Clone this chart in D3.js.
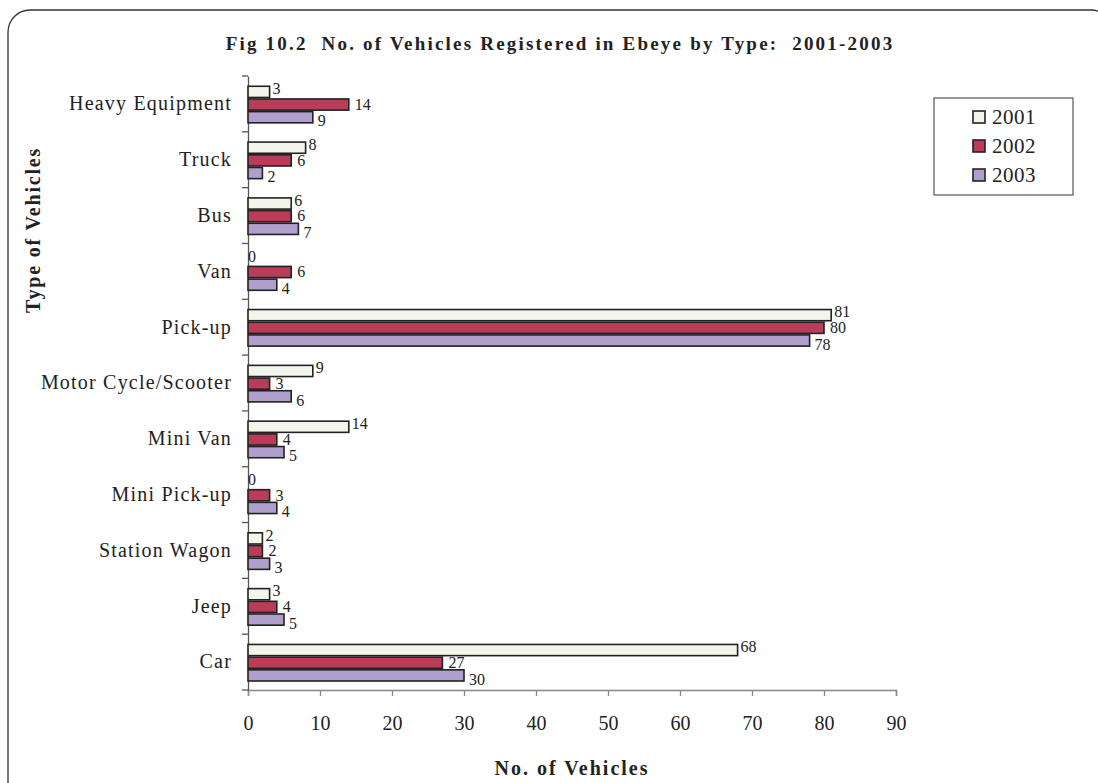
<!DOCTYPE html>
<html><head><meta charset="utf-8">
<script src="https://cdn.jsdelivr.net/npm/d3@7"></script>
<style>body{margin:0;background:#fff}svg{display:block}text{font-family:"Liberation Serif","Times New Roman",serif;white-space:pre}</style>
</head><body>
<svg id="c" width="1098" height="783"></svg>
<script>
const categories = ["Heavy Equipment","Truck","Bus","Van","Pick-up","Motor Cycle/Scooter","Mini Van","Mini Pick-up","Station Wagon","Jeep","Car"];
const seriesNames = ["2001","2002","2003"];
const v2001 = [3,8,6,0,81,9,14,0,2,3,68];
const v2002 = [14,6,6,6,80,3,4,3,2,4,27];
const v2003 = [9,2,7,4,78,6,5,4,3,5,30];
const xTicks = [0,10,20,30,40,50,60,70,80,90];
const colors = ["#F2F6EA","#BA3C58","#B09FCC"];
const series = [v2001,v2002,v2003];

const svg = d3.select("#c");
svg.append("rect").attr("x",8).attr("y",10).attr("width",1105).attr("height",800)
  .attr("rx",22).attr("ry",22).attr("fill","none").attr("stroke","#333").attr("stroke-width",1.3);

const L=248,R=896,T=76,B=690;
const x = d3.scaleLinear().domain([0,90]).range([L,R]);
const y = d3.scaleBand().domain(categories).range([T,B]);
const inner = d3.scaleBand().domain(seriesNames).range([0,y.bandwidth()]).paddingOuter(0.7).paddingInner(0).align(0.55);

svg.append("text").attr("x",560).attr("y",50).attr("text-anchor","middle")
  .attr("font-size",19).attr("font-weight","bold").attr("fill","#222").attr("letter-spacing",2.2)
  .text("Fig 10.2  No. of Vehicles Registered in Ebeye by Type:  2001-2003");

// axes
const xAxis = svg.append("g").attr("transform",`translate(0,${B})`)
  .call(d3.axisBottom(x).tickValues(xTicks).tickSize(6).tickPadding(20));
xAxis.select(".domain").attr("stroke","#888").attr("stroke-width",1.5);
xAxis.selectAll(".tick line").attr("stroke","#888").attr("stroke-width",1.3);
xAxis.selectAll(".tick text").attr("font-size",20).attr("fill","#222").attr("font-family","Liberation Serif");

const yAxis = svg.append("g").attr("transform",`translate(${L},0)`)
  .call(d3.axisLeft(y).tickSize(0).tickPadding(16));
yAxis.select(".domain").attr("stroke","#555").attr("stroke-width",1.3);
yAxis.selectAll(".tick text").attr("font-size",20).attr("letter-spacing",1.2).attr("fill","#222").attr("font-family","Liberation Serif");
// boundary ticks
const bounds = categories.map(c=>y(c)).concat([B]);
svg.append("g").selectAll("line").data(bounds).join("line")
  .attr("x1",L-6).attr("x2",L).attr("y1",d=>d).attr("y2",d=>d).attr("stroke","#555").attr("stroke-width",1.3);

// bars
const dy = [-3,0,4], dx = [3,6,5];
seriesNames.forEach((s,si)=>{
  const g = svg.append("g");
  g.selectAll("rect").data(categories).join("rect")
    .attr("x",x(0)).attr("y",(c)=>y(c)+inner(s)+0.5)
    .attr("width",(c,i)=>x(series[si][i])-x(0)).attr("height",inner.bandwidth()-1.5)
    .attr("fill",colors[si]).attr("stroke","#222").attr("stroke-width",1.6);
  g.selectAll("text").data(categories).join("text")
    .attr("x",(c,i)=>x(series[si][i])+ (series[si][i]===0?0:dx[si]))
    .attr("y",(c)=>y(c)+inner(s)+inner.bandwidth()/2+5+dy[si])
    .attr("font-size",16).attr("fill","#222")
    .text((c,i)=>series[si][i]);
});

// axis titles
svg.append("text").attr("x",572).attr("y",775).attr("text-anchor","middle").attr("letter-spacing",2)
  .attr("font-size",20).attr("font-weight","bold").attr("fill","#222").text("No. of Vehicles");
svg.append("text").attr("transform","translate(40,230) rotate(-90)").attr("text-anchor","middle").attr("letter-spacing",1.8)
  .attr("font-size",20).attr("font-weight","bold").attr("fill","#222").text("Type of Vehicles");

// legend
const lg = svg.append("g");
lg.append("rect").attr("x",934).attr("y",98).attr("width",139).attr("height",97)
  .attr("fill","#fff").attr("stroke","#555").attr("stroke-width",1.2);
seriesNames.forEach((s,i)=>{
  const yy = 116 + i*29;
  lg.append("rect").attr("x",973).attr("y",yy-5).attr("width",12).attr("height",12)
    .attr("fill",colors[i]).attr("stroke","#222").attr("stroke-width",1.6);
  lg.append("text").attr("x",992).attr("y",yy+8).attr("font-size",21).attr("letter-spacing",0.5).attr("fill","#222").text(s);
});
</script>
</body></html>
